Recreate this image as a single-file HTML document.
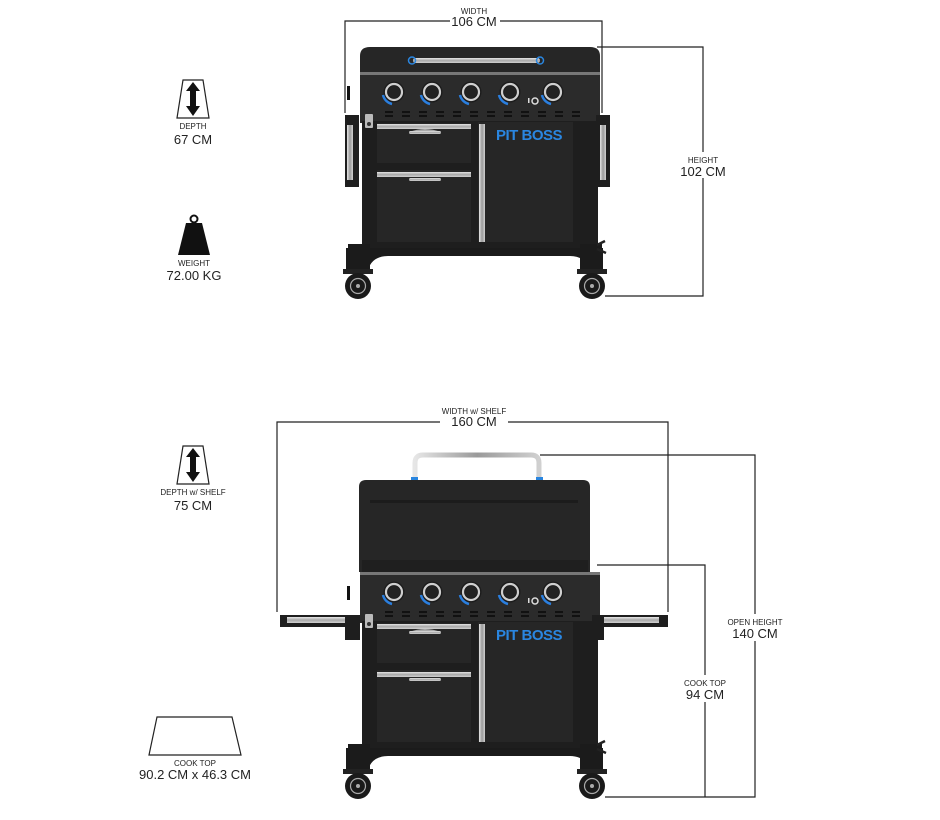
<!DOCTYPE html>
<html><head><meta charset="utf-8"><style>
html,body{margin:0;padding:0;background:#fff;}
svg{display:block;font-family:"Liberation Sans",Arial,sans-serif;}
.s{font-size:8px;fill:#222;text-anchor:middle;}
.l{font-size:13px;fill:#222;text-anchor:middle;}
.d{stroke:#222;stroke-width:1.2;fill:none;}
</style></head><body>
<svg width="940" height="820" viewBox="0 0 940 820" xmlns="http://www.w3.org/2000/svg">
<defs>
<linearGradient id="sil" x1="0" y1="0" x2="0" y2="1"><stop offset="0" stop-color="#e6e6e6"/><stop offset="0.5" stop-color="#a8a8a8"/><stop offset="1" stop-color="#d0d0d0"/></linearGradient>
<linearGradient id="silv" x1="0" y1="0" x2="1" y2="0"><stop offset="0" stop-color="#e6e6e6"/><stop offset="0.5" stop-color="#9a9a9a"/><stop offset="1" stop-color="#d0d0d0"/></linearGradient>
<g id="knob"><circle r="10.5" fill="#1c1c1c"/><circle r="8" fill="none" stroke="#cfcfcf" stroke-width="2.2"/><circle r="6" fill="#222"/><path d="M-11,3 A12,12 0 0 0 -2,12" stroke="#2a7fe0" stroke-width="2.5" fill="none"/></g>
<g id="body">
 <rect x="360" y="73" width="240" height="50" fill="#2b2b2b"/>
 <rect x="360" y="72" width="240" height="3" fill="#777"/>
 <use href="#knob" x="394" y="92"/><use href="#knob" x="432" y="92"/><use href="#knob" x="471" y="92"/><use href="#knob" x="510" y="92"/><use href="#knob" x="553" y="92"/>
 <circle cx="535" cy="101" r="3" fill="none" stroke="#ddd" stroke-width="1.5"/><rect x="528" y="98" width="1.5" height="5" fill="#ddd"/>
 <g fill="#111">
  <rect x="385" y="111" width="8" height="2"/><rect x="385" y="115" width="8" height="2"/>
  <rect x="402" y="111" width="8" height="2"/><rect x="402" y="115" width="8" height="2"/>
  <rect x="419" y="111" width="8" height="2"/><rect x="419" y="115" width="8" height="2"/>
  <rect x="436" y="111" width="8" height="2"/><rect x="436" y="115" width="8" height="2"/>
  <rect x="453" y="111" width="8" height="2"/><rect x="453" y="115" width="8" height="2"/>
  <rect x="470" y="111" width="8" height="2"/><rect x="470" y="115" width="8" height="2"/>
  <rect x="487" y="111" width="8" height="2"/><rect x="487" y="115" width="8" height="2"/>
  <rect x="504" y="111" width="8" height="2"/><rect x="504" y="115" width="8" height="2"/>
  <rect x="521" y="111" width="8" height="2"/><rect x="521" y="115" width="8" height="2"/>
  <rect x="538" y="111" width="8" height="2"/><rect x="538" y="115" width="8" height="2"/>
  <rect x="555" y="111" width="8" height="2"/><rect x="555" y="115" width="8" height="2"/>
  <rect x="572" y="111" width="8" height="2"/><rect x="572" y="115" width="8" height="2"/>
 </g>
 <rect x="347" y="86" width="3" height="14" fill="#111"/>
 <rect x="362" y="121" width="236" height="131" fill="#1e1e1e"/>
 <rect x="377" y="123" width="94" height="40" fill="#262626"/>
 <rect x="377" y="124" width="94" height="5" fill="url(#sil)"/>
 <path d="M409,132 Q425,126 441,132 Z" fill="#aaa"/><rect x="409" y="131" width="32" height="3" rx="1.5" fill="url(#sil)"/>
 <rect x="377" y="170" width="94" height="72" fill="#262626"/>
 <rect x="377" y="172" width="94" height="5" fill="url(#sil)"/>
 <rect x="409" y="178" width="32" height="3" rx="1.5" fill="url(#sil)"/>
 <rect x="478" y="122" width="95" height="120" fill="#262626"/>
 <rect x="479" y="124" width="6" height="118" fill="url(#silv)"/>
 <text x="529" y="140" font-size="15" font-weight="bold" fill="#2a86e0" text-anchor="middle" letter-spacing="-0.5">PIT BOSS</text>
 <rect x="365" y="114" width="8" height="14" rx="1" fill="#bbb"/><circle cx="369" cy="124" r="2" fill="#333"/>
 <path d="M346,248 L603,248 L603,270 L590,270 Q585,256 570,256 L388,256 Q372,256 368,270 L346,270 Z" fill="#1b1b1b"/>
 <rect x="348" y="244" width="22" height="28" fill="#1b1b1b"/><rect x="580" y="244" width="22" height="28" fill="#1b1b1b"/>
 <path d="M597,245 l8,-4 M597,249 l9,4" stroke="#222" stroke-width="2.5"/>
 <rect x="343" y="269" width="30" height="5" fill="#222"/><rect x="577" y="269" width="30" height="5" fill="#222"/>
 <circle cx="358" cy="286" r="13" fill="#1a1a1a"/><circle cx="358" cy="286" r="7.5" fill="none" stroke="#aaa" stroke-width="1.2"/><circle cx="358" cy="286" r="2" fill="#aaa"/>
 <circle cx="592" cy="286" r="13" fill="#1a1a1a"/><circle cx="592" cy="286" r="7.5" fill="none" stroke="#aaa" stroke-width="1.2"/><circle cx="592" cy="286" r="2" fill="#aaa"/>
</g>
</defs>

<path d="M360,72 L360,56 Q360,47 370,47 L590,47 Q600,47 600,56 L600,72 Z" fill="#262626"/>
<rect x="413" y="58" width="127" height="5" rx="2.5" fill="url(#sil)"/>
<circle cx="412" cy="60.5" r="3.5" fill="none" stroke="#2a86e0" stroke-width="1.5"/><circle cx="540" cy="60.5" r="3.5" fill="none" stroke="#2a86e0" stroke-width="1.5"/>
<use href="#body"/>
<rect x="345" y="115" width="14" height="72" fill="#1e1e1e"/><rect x="347" y="125" width="6" height="55" fill="url(#silv)"/>
<rect x="596" y="115" width="14" height="72" fill="#1e1e1e"/><rect x="600" y="125" width="6" height="55" fill="url(#silv)"/>

<path class="d" d="M345,113 V21 H450 M500,21 H602 V113"/>
<text class="s" x="474" y="14">WIDTH</text>
<text class="l" x="474" y="26">106 CM</text>
<path class="d" d="M597,47 H703 V296 H605"/>
<rect x="680" y="152" width="46" height="26" fill="#fff"/>
<text class="s" x="703" y="163">HEIGHT</text>
<text class="l" x="703" y="176">102 CM</text>

<path d="M183,80 L203,80 L209,118 L177,118 Z" fill="#fff" stroke="#222" stroke-width="1.2"/>
<path d="M193,82 L200,91 L196,91 L196,106 L200,106 L193,116 L186,106 L190,106 L190,91 L186,91 Z" fill="#111"/>
<text class="s" x="193" y="129">DEPTH</text>
<text class="l" x="193" y="144">67 CM</text>
<circle cx="194" cy="219" r="3.5" fill="none" stroke="#111" stroke-width="2"/>
<path d="M186,223 L202,223 L210,255 L178,255 Z" fill="#111"/>
<text class="s" x="194" y="266">WEIGHT</text>
<text class="l" x="194" y="280">72.00 KG</text>

<path d="M415,480 L415,463 Q415,455 423,455 L531,455 Q539,455 539,463 L539,480" fill="none" stroke="url(#silv)" stroke-width="5"/>
<rect x="411" y="477" width="7" height="4" fill="#2a86e0"/><rect x="536" y="477" width="7" height="4" fill="#2a86e0"/>
<path d="M359,572 L359,487 Q359,480 366,480 L583,480 Q590,480 590,487 L590,572 Z" fill="#262626"/>
<rect x="370" y="500" width="208" height="3" fill="#1c1c1c"/>
<rect x="362" y="560" width="226" height="12" fill="#1f1f1f"/>
<use href="#body" y="500"/>
<rect x="280" y="615" width="80" height="12" fill="#1e1e1e"/><rect x="287" y="617" width="66" height="6" fill="url(#sil)"/>
<rect x="345" y="615" width="15" height="25" fill="#1e1e1e"/>
<rect x="592" y="615" width="76" height="12" fill="#1e1e1e"/><rect x="597" y="617" width="62" height="6" fill="url(#sil)"/>
<rect x="592" y="615" width="12" height="25" fill="#1e1e1e"/>

<path class="d" d="M277,612 V422 H440 M508,422 H668 V612"/>
<text class="s" x="474" y="414">WIDTH w/ SHELF</text>
<text class="l" x="474" y="426">160 CM</text>
<path class="d" d="M540,455 H755 V797 H605"/>
<rect x="728" y="614" width="56" height="27" fill="#fff"/>
<text class="s" x="755" y="625">OPEN HEIGHT</text>
<text class="l" x="755" y="638">140 CM</text>
<path class="d" d="M597,565 H705 V797"/>
<rect x="682" y="675" width="46" height="27" fill="#fff"/>
<text class="s" x="705" y="686">COOK TOP</text>
<text class="l" x="705" y="699">94 CM</text>

<path d="M183,446 L203,446 L209,484 L177,484 Z" fill="#fff" stroke="#222" stroke-width="1.2"/>
<path d="M193,448 L200,457 L196,457 L196,472 L200,472 L193,482 L186,472 L190,472 L190,457 L186,457 Z" fill="#111"/>
<text class="s" x="193" y="495">DEPTH w/ SHELF</text>
<text class="l" x="193" y="510">75 CM</text>
<path d="M157,717 L232,717 L241,755 L149,755 Z" fill="#fff" stroke="#222" stroke-width="1.2"/>
<text class="s" x="195" y="766">COOK TOP</text>
<text class="l" x="195" y="779">90.2 CM x 46.3 CM</text>
</svg>
</body></html>
